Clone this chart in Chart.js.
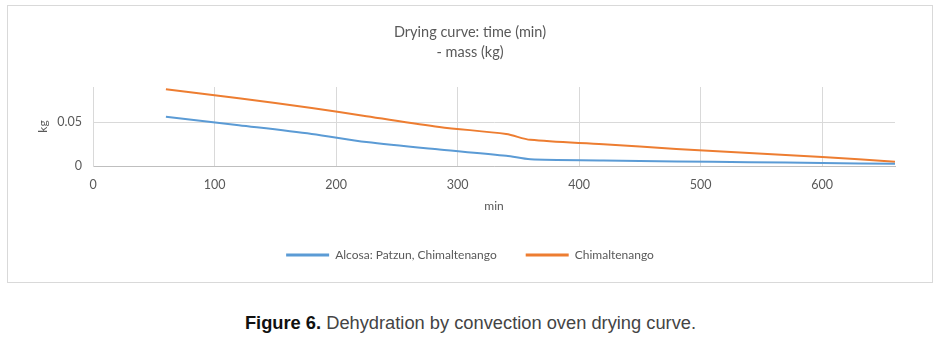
<!DOCTYPE html>
<html>
<head>
<meta charset="utf-8">
<script src="https://cdn.jsdelivr.net/npm/chart.js@4"></script>
<style>
  html, body { margin: 0; padding: 0; background: #fff; width: 941px; height: 337px; overflow: hidden; }
  #frame { position: absolute; left: 7px; top: 5px; width: 924px; height: 276px; border: 1px solid #d9d9d9; }
  #frame canvas { position: absolute; left: 0; top: 0; }
  #caption { position: absolute; left: 0; top: 312px; width: 941px; text-align: center;
             font-family: "Liberation Sans", Arial, sans-serif; font-size: 18.3px; color: #444; }
  #caption b { color: #111; }
</style>
</head>
<body>
<div id="frame"><canvas id="chart" width="924" height="276"></canvas></div>
<div id="caption"><b>Figure 6.</b> Dehydration by convection oven drying curve.</div>
<script>
// Drying time (min) and remaining mass (kg) for each sample
const minutes = [60, 120, 180, 225, 285, 340, 360, 420, 480, 540, 600, 660];
const alcosaKg = [0.0560, 0.0464, 0.0365, 0.0273, 0.0187, 0.0117, 0.0076, 0.0064, 0.0052, 0.0044, 0.0034, 0.0026];
const chimaltenangoKg = [0.0875, 0.0771, 0.0660, 0.0568, 0.0445, 0.0364, 0.0298, 0.0249, 0.0195, 0.0148, 0.0102, 0.0049];

const seriesNames = ['Alcosa: Patzun, Chimaltenango', 'Chimaltenango'];
const seriesColors = ['#5b9bd5', '#ed7d31'];
const titleLines = ['Drying curve: time (min)', '- mass (kg)'];
const xTicks = [0, 100, 200, 300, 400, 500, 600];
const yTicks = [0, 0.05];

const toPoints = (ys) => minutes.map((m, i) => ({ x: m, y: ys[i] }));
const FONT = 'Lato, "Open Sans", sans-serif';
const TEXT = '#595959';

new Chart(document.getElementById('chart'), {
  type: 'line',
  data: {
    datasets: [alcosaKg, chimaltenangoKg].map((ys, i) => ({
      label: seriesNames[i],
      data: toPoints(ys),
      borderColor: seriesColors[i],
      backgroundColor: seriesColors[i],
      borderWidth: 2,
      pointRadius: 0,
      tension: 0.3,
      fill: false
    }))
  },
  options: {
    responsive: false,
    animation: false,
    events: [],
    layout: { padding: { left: 0, right: 0, top: 0, bottom: 11 } },
    plugins: {
      tooltip: { enabled: false },
      title: {
        display: true,
        text: titleLines,
        color: TEXT,
        font: { family: FONT, size: 14.5, weight: 'normal', lineHeight: '20px' },
        padding: { top: 16, bottom: 25 }
      },
      legend: {
        position: 'bottom',
        labels: {
          color: TEXT,
          font: { family: FONT, size: 12 },
          boxWidth: 43,
          boxHeight: 3,
          padding: 29,
          generateLabels: (chart) =>
            Chart.defaults.plugins.legend.labels.generateLabels(chart).map((item) => {
              item.lineWidth = 0;
              item.fillStyle = item.strokeStyle;
              return item;
            })
        }
      }
    },
    scales: {
      x: {
        type: 'linear',
        min: 0,
        max: 660,
        afterBuildTicks: (s) => { s.ticks = xTicks.map((v) => ({ value: v })); },
        afterFit: (s) => { s.height = 54; },
        ticks: { color: TEXT, font: { family: FONT, size: 12.5 }, padding: 11 },
        grid: { color: '#d9d9d9', drawTicks: false },
        border: { color: '#bfbfbf', width: 1 },
        title: { display: true, text: 'min', color: TEXT, font: { family: FONT, size: 12 }, padding: { top: 0, bottom: 7 } }
      },
      y: {
        type: 'linear',
        min: 0,
        max: 0.09,
        afterBuildTicks: (s) => { s.ticks = yTicks.map((v) => ({ value: v })); },
        afterFit: (s) => { s.width = 85; },
        ticks: { color: TEXT, font: { family: FONT, size: 12.5 }, padding: 11,
                 callback: (v) => (v === 0 ? '0' : String(v)) },
        grid: { color: '#d9d9d9', drawTicks: false },
        border: { color: '#d9d9d9', width: 1 },
        title: { display: true, text: 'kg', color: TEXT, font: { family: FONT, size: 12 }, padding: { top: 28, bottom: 0 } }
      },
      rightGap: {
        type: 'linear',
        position: 'right',
        display: true,
        afterFit: (s) => { s.width = 37; },
        ticks: { display: false },
        grid: { display: false },
        border: { display: false }
      }
    }
  }
});
</script>
</body>
</html>
